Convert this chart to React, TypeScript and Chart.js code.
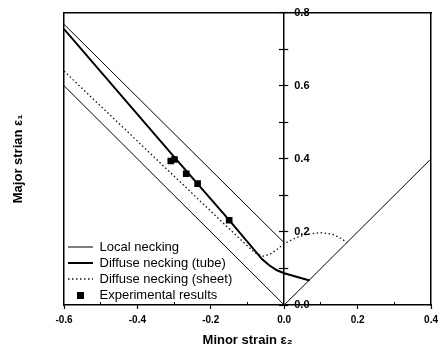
import React, { useEffect, useRef } from "react";
import { Chart, registerables } from "chart.js";

Chart.register(...registerables);

// ---- Data ----
const X_TICKS = [-0.6, -0.4, -0.2, 0.0, 0.2, 0.4];
const X_MINOR = [-0.5, -0.3, -0.1, 0.1, 0.3];
const Y_TICKS = [0.0, 0.2, 0.4, 0.6, 0.8];
const Y_MINOR = [0.1, 0.3, 0.5, 0.7];

const SERIES_NAMES = [
  "Local necking",
  "Diffuse necking (tube)",
  "Diffuse necking (sheet)",
  "Experimental results",
];

// Local necking: lower V branch and upper branch
const localVX = [-0.6, 0.0, 0.4];
const localVY = [0.6, 0.0, 0.4];
const localUpperX = [-0.6, 0.0];
const localUpperY = [0.768, 0.17];

// Diffuse necking (tube)
const tubeX = [-0.6, -0.3, -0.15, -0.06, -0.04, -0.02, 0.0, 0.069];
const tubeY = [0.755, 0.405, 0.232, 0.125, 0.108, 0.095, 0.087, 0.067];

// Diffuse necking (sheet)
const sheetX = [-0.6, -0.12, -0.08, -0.06, -0.04, -0.02, 0.0, 0.03, 0.06, 0.1, 0.13, 0.15, 0.171];
const sheetY = [0.64, 0.18, 0.143, 0.133, 0.138, 0.152, 0.168, 0.183, 0.193, 0.198, 0.194, 0.185, 0.171];

// Experimental results
const expX = [-0.309, -0.299, -0.267, -0.236, -0.15];
const expY = [0.394, 0.398, 0.359, 0.332, 0.232];

const zip = (xs: number[], ys: number[]) => xs.map((x, i) => ({ x, y: ys[i] }));

const FONT = "'Liberation Sans', Arial, Helvetica, sans-serif";

export default function App() {
  const ref = useRef<HTMLCanvasElement | null>(null);

  useEffect(() => {
    document.body.style.margin = "0";
    const canvas = ref.current;
    if (!canvas) return;

    Chart.defaults.font.family = FONT;
    Chart.defaults.color = "#000";

    const sq = document.createElement("canvas");
    sq.width = 7;
    sq.height = 7;
    const sctx = sq.getContext("2d");
    if (sctx) {
      sctx.fillStyle = "#000";
      sctx.fillRect(0, 0, 7, 7);
    }

    const xMin = -0.6, xMax = 0.4, yMin = 0, yMax = 0.8;

    const placePlugin = {
      id: "placeCentreAxisAndLegend",
      afterLayout(chart: any) {
        const px = chart.scales.x.getPixelForValue(0);
        const s = chart.scales.ycl;
        s.left = px;
        s.right = px + 30;
        s.width = 30;
        const lg = chart.legend;
        if (lg) {
          const ca = chart.chartArea;
          lg.left = ca.left + 1;
          lg.top = 237.5;
          lg.right = ca.left + 200;
          lg.bottom = ca.bottom;
        }
      },
    };

    const chart = new Chart(canvas, {
      type: "scatter",
      data: {
        datasets: [
          {
            label: SERIES_NAMES[3],
            data: zip(expX, expY),
            showLine: false,
            pointStyle: "rect",
            pointRadius: 4.7,
            backgroundColor: "#000",
            borderColor: "#000",
            borderWidth: 0,
          },
          {
            label: SERIES_NAMES[1],
            data: zip(tubeX, tubeY),
            showLine: true,
            borderColor: "#000",
            borderWidth: 2,
            pointRadius: 0,
            pointStyle: "line",
          },
          {
            label: SERIES_NAMES[2],
            data: zip(sheetX, sheetY),
            showLine: true,
            borderColor: "#111",
            borderWidth: 1.3,
            borderDash: [1.5, 2.5],
            pointRadius: 0,
            pointStyle: "line",
          },
          {
            label: SERIES_NAMES[0],
            data: zip(localVX, localVY),
            showLine: true,
            borderColor: "#000",
            borderWidth: 1,
            pointRadius: 0,
            pointStyle: "line",
          },
          {
            label: SERIES_NAMES[0] + " (upper)",
            data: zip(localUpperX, localUpperY),
            showLine: true,
            borderColor: "#000",
            borderWidth: 1,
            pointRadius: 0,
            pointStyle: "line",
          },
        ],
      },
      options: {
        animation: false,
        responsive: false,
        devicePixelRatio: 1,
        layout: { padding: 0 },
        plugins: {
          tooltip: { enabled: false },
          legend: {
            position: "chartArea" as any,
            align: "start",
            labels: {
              usePointStyle: true,
              pointStyleWidth: 25,
              padding: 3,
              color: "#000",
              font: { size: 13, family: FONT },
              generateLabels: () => [
                { text: SERIES_NAMES[0], datasetIndex: 3, strokeStyle: "#000", fillStyle: "#000", lineWidth: 1, lineDash: [], pointStyle: "line", hidden: false, fontColor: "#000" },
                { text: SERIES_NAMES[1], datasetIndex: 1, strokeStyle: "#000", fillStyle: "#000", lineWidth: 2, lineDash: [], pointStyle: "line", hidden: false, fontColor: "#000" },
                { text: SERIES_NAMES[2], datasetIndex: 2, strokeStyle: "#111", fillStyle: "#111", lineWidth: 1.3, lineDash: [1.5, 2.5], pointStyle: "line", hidden: false, fontColor: "#000" },
                { text: SERIES_NAMES[3], datasetIndex: 0, strokeStyle: "#000", fillStyle: "#000", lineWidth: 0, lineDash: [], pointStyle: sq as any, hidden: false, fontColor: "#000" },
              ] as any,
            },
          },
        },
        scales: {
          x: {
            type: "linear",
            position: "bottom",
            min: xMin,
            max: xMax,
            afterBuildTicks: (s: any) => { s.ticks = X_TICKS.map((v) => ({ value: v })); },
            ticks: {
              callback: (v: any) => Number(v).toFixed(1),
              font: { size: 10, weight: "bold" },
              color: "#000",
              padding: 5,
              maxRotation: 0,
              autoSkip: false,
            },
            grid: { drawOnChartArea: false, tickLength: 4, tickColor: "#000", tickWidth: 1.2 },
            border: { color: "#000", width: 1.5 },
            title: {
              display: true,
              text: "Minor strain ε₂",
              font: { size: 13, weight: "bold" },
              color: "#000",
              padding: { top: 0, bottom: 1 },
            },
            afterFit: (s: any) => { s.height = 44; },
          },
          xm: {
            type: "linear",
            axis: "x",
            position: { y: 0 } as any,
            min: xMin,
            max: xMax,
            afterBuildTicks: (s: any) => { s.ticks = X_MINOR.map((v) => ({ value: v })); },
            ticks: { display: false },
            grid: { drawOnChartArea: false, tickLength: -3, tickColor: "#000", tickWidth: 1 },
            border: { display: false },
          },
          xt: {
            type: "linear",
            position: "top",
            min: xMin,
            max: xMax,
            ticks: { display: false },
            grid: { drawOnChartArea: false, drawTicks: false },
            border: { color: "#000", width: 1.5 },
            afterFit: (s: any) => { s.height = 8; },
          },
          y: {
            type: "linear",
            position: "left",
            min: yMin,
            max: yMax,
            ticks: { display: false },
            grid: { drawOnChartArea: false, drawTicks: false },
            border: { color: "#000", width: 1.5 },
            title: {
              display: true,
              text: "Major strian ε₁",
              font: { size: 13, weight: "bold" },
              color: "#000",
              padding: { top: 11, bottom: 0 },
            },
            afterFit: (s: any) => { s.width = 64; },
          },
          yr: {
            type: "linear",
            position: "right",
            min: yMin,
            max: yMax,
            ticks: { display: false },
            grid: { drawOnChartArea: false, drawTicks: false },
            border: { color: "#000", width: 1.5 },
            afterFit: (s: any) => { s.width = 11; },
          },
          yc: {
            type: "linear",
            axis: "y",
            position: { x: 0 } as any,
            min: yMin,
            max: yMax,
            afterBuildTicks: (s: any) => {
              s.ticks = [...Y_TICKS, ...Y_MINOR].sort((a, b) => a - b).map((v) => ({ value: v }));
            },
            ticks: { display: false },
            grid: { drawOnChartArea: false, tickLength: 4, tickColor: "#000", tickWidth: 1.2 },
            border: { color: "#000", width: 1.5 },
          },
          ycl: {
            type: "linear",
            axis: "y",
            position: "right",
            min: yMin,
            max: yMax,
            afterBuildTicks: (s: any) => {
              s.ticks = [...Y_TICKS, ...Y_MINOR].sort((a, b) => a - b).map((v) => ({ value: v }));
            },
            ticks: {
              callback: (v: any) => (Y_TICKS.includes(v) ? Number(v).toFixed(1) : ""),
              font: { size: 11, weight: "bold" },
              color: "#000",
              padding: 6,
              autoSkip: false,
            },
            grid: { drawOnChartArea: false, tickLength: 4, tickColor: "#000", tickWidth: 1.2 },
            border: { display: false },
            afterFit: (s: any) => { s.width = 0; },
          },
        } as any,
      },
      plugins: [placePlugin as any],
    });

    return () => chart.destroy();
  }, []);

  return (
    <div style={{ width: 443, height: 349, position: "relative" }}>
      <canvas ref={ref} width={443} height={349} style={{ display: "block" }} />
    </div>
  );
}
